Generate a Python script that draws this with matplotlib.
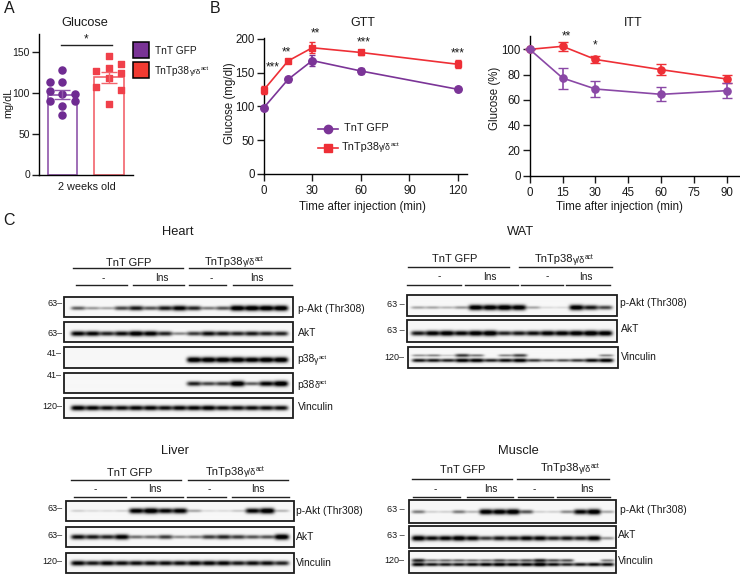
import numpy as np
import matplotlib
matplotlib.use("Agg")
import matplotlib.pyplot as plt
from matplotlib.patches import Rectangle

plt.rcParams['font.family'] = ['Liberation Sans', 'DejaVu Sans']
plt.rcParams['axes.linewidth'] = 1.0
plt.rcParams['xtick.major.width'] = 1.0
plt.rcParams['ytick.major.width'] = 1.0
plt.rcParams['xtick.major.size'] = 5
plt.rcParams['ytick.major.size'] = 5
plt.rcParams['xtick.major.pad'] = 3
plt.rcParams['ytick.major.pad'] = 1.5
plt.rcParams['xtick.labelsize'] = 8.3
plt.rcParams['ytick.labelsize'] = 8.3

W, H = 740, 574
PURPLE = '#7b3497'
RED = '#ee2f36'
TXT = '#1a1a1a'

# panel A
glucose_gfp = [127.4, 112.4, 112.4, 102.2, 98.9, 98.9, 89.2, 89.6, 83.5, 72.5]
glucose_gfp_col = [0, -1, 0, -1, 0, 1, -1, 1, 0, 0]
glucose_p38 = [145, 126.2, 134.4, 129.5, 123.4, 118, 106.3, 103.4, 86.3]
glucose_p38_col = [0, -1, 1, 0, 1, 0, -1, 1, 0]
bar_means = [97.7, 118.5]
bar_err = [5.5, 6.3]

# panel B, GTT
gtt_time = [0, 15, 30, 60, 120]
gtt_gfp = [98, 140, 168, 152.6, 125.4]
gtt_gfp_err = [2, 3, 8, 5, 3]
gtt_p38 = [124.4, 167.4, 187, 180, 162.5]
gtt_p38_err = [6, 3, 8, 4, 6]
gtt_stars = [(5.5, 158, '***'), (14, 180, '**'), (32, 208, '**'), (62, 195, '***'), (120, 179, '***')]

# panel B, ITT
itt_time = [0, 15, 30, 60, 90]
itt_gfp = [100, 77.3, 68.6, 64.4, 67.3]
itt_gfp_err = [0, 8.3, 6.7, 5.5, 6]
itt_p38 = [100, 102.4, 92, 83.9, 76.5]
itt_p38_err = [0, 3.7, 2.8, 4.2, 3]

# panel C, band strength per lane
heart_pakt = [.45, .25, .2, .55, .75, .5, .75, .9, .7, .35, .5, 1, 1, 1, 1]
heart_akt = [.85, .85, .7, .8, .95, .9, .7, .3, .6, .8, .75, .7, .75, .7, .7]
heart_p38g = [0, 0, 0, 0, 0, 0, 0, 0, 1, 1, 1, 1, .95, 1, 1]
heart_p38d = [0, 0, 0, 0, 0, 0, 0, 0, .7, .55, .6, 1, .45, .85, 1]
heart_vinc = [.9, .85, .8, .8, .85, .85, .8, .85, .85, .9, .8, .8, .8, .8, .8]

wat_pakt = [.2, .2, .15, .25, .95, .95, 1, .95, .2, .05, .05, .95, .75, .55]
wat_akt = [.75, .9, .95, .85, .95, 1, .7, .75, .8, .9, .9, .95, 1, .95]
wat_vinc = [.75, .75, .7, .9, .9, .7, .8, .9, .6, .45, .5, .6, .8, .9]
wat_vinc_up = [.25, .3, .1, .6, .35, 0, .3, .55, 0, 0, 0, 0, 0, .3]

liver_pakt = [.08, .05, .05, .07, .9, 1, .85, .9, .2, .05, .05, .1, .85, 1, .15]
liver_akt = [.8, .75, .7, .9, .4, .4, .6, .3, .35, .6, .7, .6, .5, .5, 1]
liver_vinc = [.85, .75, .85, .8, .8, .8, .8, .8, .85, .85, .85, .75, .8, .8, .7]

muscle_pakt = [.35, .08, .08, .35, .15, .95, .95, 1, .5, .08, .08, .3, .85, 1, .2]
muscle_akt = [.95, .8, .85, .95, .85, .6, .75, .75, .85, .85, .7, .75, .7, .9, .25]
muscle_vinc = [.85, .75, .75, .75, .8, .85, .9, .85, .85, .95, .8, .7, .75, .8, .8]
muscle_vinc_up = [.7, .35, .4, .4, .35, .35, .5, .4, .5, .7, .5, .5, 0, 0, .35]

fig = plt.figure(figsize=(W / 100, H / 100), dpi=100)

# overlay in pixel coordinates for the blots and free text
ov = fig.add_axes([0, 0, 1, 1], zorder=5)
ov.patch.set_alpha(0)
ov.axis('off')
ov.set_xlim(0, W)
ov.set_ylim(H, 0)


def px_axes(left, right, top, bottom):
  a = fig.add_axes([left / W, 1 - bottom / H, (right - left) / W, (bottom - top) / H])
  a.spines['top'].set_visible(False)
  a.spines['right'].set_visible(False)
  a.tick_params(colors=TXT)
  return a


def label_axes(a, xlabel, xpos, ylabel, ypos, size=8.3):
  a.set_xlabel(xlabel, fontsize=size, color=TXT, va='center', ha='center')
  a.xaxis.set_label_coords(xpos[0], xpos[1], transform=ov.transData)
  a.set_ylabel(ylabel, fontsize=size, color=TXT, va='center', ha='center')
  a.yaxis.set_label_coords(ypos[0], ypos[1], transform=ov.transData)


def t(x, y, s, size=7.4, ha='left', **kw):
  return ov.text(x, y, s, fontsize=size, ha=ha, va='center', color=TXT, **kw)


def p38_label(x, y, size=8):
  # TnTp38 + small gamma/delta + raised act
  r = fig.canvas.get_renderer()
  a = t(x, y, 'TnTp38', size)
  x += a.get_window_extent(r).width - 0.5
  b = t(x, y + 1, 'γ/δ', size * .82)
  x += b.get_window_extent(r).width - 0.5
  t(x, y - 2, 'act', size * .6)


def p38_protein(x, y, letter, size=7.4):
  r = fig.canvas.get_renderer()
  a = t(x, y, 'p38', size)
  x += a.get_window_extent(r).width - 0.5
  b = t(x, y + 1, letter, size * .85)
  x += b.get_window_extent(r).width - 0.5
  t(x, y - 2, 'act', size * .6)


def blot(x0, x1, y0, y1, rows, ml, mr):
  xs = np.arange(x0, x1, 0.5)
  ys = np.arange(y0, y1, 0.5)
  gx, gy = np.meshgrid(xs, ys)
  dark = np.zeros_like(gx)
  for vals, frac in rows:
    n = len(vals)
    centres = np.linspace(x0 + ml, x1 - mr, n)
    half = (centres[1] - centres[0]) * 0.5
    yc = y0 + frac * (y1 - y0)
    for c, v in zip(centres, vals):
      sy = (1.1 + 1.7 * v) * (0.75 if len(rows) > 1 else 1)
      dark += v ** 0.8 * np.exp(-((gx - c) / half) ** 4) * np.exp(-((gy - yc) / sy) ** 2)
  img = 0.97 - 1.15 * np.clip(dark, 0, 1)
  ov.imshow(img, cmap='gray', vmin=0, vmax=1, extent=(x0, x1, y1, y0), aspect='auto', interpolation='bilinear')
  ov.add_patch(Rectangle((x0, y0), x1 - x0, y1 - y0, fill=False, ec='#1c1c1c', lw=1.3))


def header(title, title_xy, gfp_xy, gfp_line, p38_xy, p38_line, line_y, subs, sub_y):
  t(title_xy[0], title_xy[1], title, 9.3, ha='center')
  t(gfp_xy[0], gfp_xy[1], 'TnT GFP', 8, ha='center')
  p38_label(p38_xy[0], p38_xy[1])
  ov.plot(gfp_line, [line_y, line_y], color='#222222', lw=1)
  ov.plot(p38_line, [line_y, line_y], color='#222222', lw=1)
  for lab, xc, xa, xb in subs:
    t(xc, sub_y[0], lab, 7.2, ha='center')
    ov.plot([xa, xb], [sub_y[1], sub_y[1]], color='#222222', lw=1)


# A
ax = px_axes(39, 133, 34, 174.5)
ax.set_xlim(-0.506, 1.519)
ax.set_ylim(0, 171.6)
ax.bar([0], bar_means[0], width=0.64, fc='white', ec='#8f55aa', lw=1.2)
ax.bar([1], bar_means[1], width=0.64, fc='white', ec='#f2646c', lw=1.2)
ax.errorbar([0], bar_means[0], yerr=bar_err[0], color='#8f55aa', capsize=5.5, lw=1, zorder=4)
ax.errorbar([1], bar_means[1], yerr=bar_err[1], color='#f2646c', capsize=5.5, lw=1, zorder=4)
ax.scatter(0 + 0.27 * np.array(glucose_gfp_col), glucose_gfp, s=26, color='#6f2b92', zorder=3)
ax.scatter(1 + 0.27 * np.array(glucose_p38_col), glucose_p38, s=20, marker='s', color='#f0404a', zorder=3)
ax.set_xticks([])
ax.set_yticks([0, 50, 100, 150])
ax.tick_params(axis='y', labelsize=7.5)
label_axes(ax, '2 weeks old', (87, 186.7), 'mg/dL', (8, 103), size=7.8)
t(84.5, 22.5, 'Glucose', 9.2, ha='center')
ov.plot([60.6, 111.6], [45, 45], color='#222222', lw=1)
t(86.5, 39, '*', 8.5, ha='center')
ov.add_patch(Rectangle((133, 42), 16, 16, fc='#7a3396', ec='black', lw=1.1))
ov.add_patch(Rectangle((133, 62), 16, 16, fc='#f23b32', ec='black', lw=1.1))
t(155, 50.5, 'TnT GFP', 7.3)
p38_label(155, 71, 7.3)

# GTT
ax = px_axes(263.7, 467.3, 38.3, 174)
ax.set_xlim(0, 125.7)
ax.set_ylim(0, 201)
ax.errorbar(gtt_time, gtt_gfp, yerr=gtt_gfp_err, color=PURPLE, marker='o', ms=5.4, lw=1.2, capsize=2.5, clip_on=False, zorder=3)
ax.errorbar(gtt_time, gtt_p38, yerr=gtt_p38_err, color=RED, marker='s', ms=4.8, lw=1.2, capsize=2.5, clip_on=False, zorder=4)
ax.set_xticks([0, 30, 60, 90, 120])
ax.set_yticks([0, 50, 100, 150, 200])
label_axes(ax, 'Time after injection (min)', (362.7, 206.7), 'Glucose (mg/dl)', (229.5, 103))
for sx, sy, s in gtt_stars:
  ax.text(sx, sy, s, fontsize=8.5, ha='center', va='center', color=TXT, clip_on=False)
t(363, 22.7, 'GTT', 9, ha='center')
ov.plot([318, 338], [129.3, 129.3], color=PURPLE, lw=1.2)
ov.plot([328], [129.3], color=PURPLE, marker='o', ms=6)
ov.plot([318, 338], [148.3, 148.3], color=RED, lw=1.2)
ov.plot([328], [148.3], color=RED, marker='s', ms=5.8)
t(344, 128, 'TnT GFP', 7.8)
p38_label(341.7, 147, 7.8)

# ITT
ax = px_axes(529.7, 739.3, 35.7, 175.7)
ax.set_xlim(0, 95.6)
ax.set_ylim(0, 110.8)
ax.errorbar(itt_time, itt_p38, yerr=itt_p38_err, color=RED, marker='o', ms=5.2, lw=1.2, capsize=3.4, clip_on=False, zorder=3)
ax.errorbar(itt_time, itt_gfp, yerr=itt_gfp_err, color='#8a48a6', marker='o', ms=5.2, lw=1.2, capsize=3.4, clip_on=False, zorder=4)
ax.set_xticks([0, 15, 30, 45, 60, 75, 90])
ax.set_yticks([0, 20, 40, 60, 80, 100])
label_axes(ax, 'Time after injection (min)', (619, 206.7), 'Glucose (%)', (495, 98))
ax.text(16.5, 110.5, '**', fontsize=8.5, ha='center', va='center', color=TXT, clip_on=False)
ax.text(30, 103, '*', fontsize=8.5, ha='center', va='center', color=TXT, clip_on=False)
t(633, 22.7, 'ITT', 9, ha='center')

t(9, 8.5, 'A', 11.5, ha='center')
t(215.5, 8.5, 'B', 11.5, ha='center')
t(9, 220.5, 'C', 11.5, ha='center')

# Heart
header('Heart', (177.3, 231.7), (128.3, 262.7), [72.7, 182.7], (205, 261.7), [189.3, 290], 268.3,
       [('-', 103.3, 75.7, 127.3), ('Ins', 162.3, 133.3, 184.3), ('-', 211.7, 188.7, 226), ('Ins', 257.3, 233.3, 291.7)],
       (277.7, 285.3))
blot(64, 292.7, 296.7, 317.3, [(heart_pakt, .58)], 14, 12)
blot(64, 292.7, 321.7, 342.3, [(heart_akt, .6)], 14, 12)
blot(64, 292.7, 346.7, 367.7, [(heart_p38g, .6)], 14, 12)
blot(64, 292.7, 372.7, 393, [(heart_p38d, .55)], 14, 12)
blot(64, 292.7, 397.7, 418.3, [(heart_vinc, .52)], 14, 12)
for lab, yy in [('63–', 304), ('63–', 334), ('41–', 354), ('41–', 375.7), ('120–', 406.7)]:
  t(62.3, yy, lab, 6.5, ha='right')
t(297.7, 309.3, 'p-Akt (Thr308)')
t(297.7, 332.7, 'AkT')
p38_protein(297.7, 359.3, 'γ')
p38_protein(297.7, 385, 'δ')
t(297.7, 407.3, 'Vinculin')

# WAT
header('WAT', (520.7, 231.7), (454.7, 259.3), [408.3, 509.3], (535, 259.3), [519.3, 612], 267,
       [('-', 439, 407.3, 460.7), ('Ins', 490.3, 464.7, 518.3), ('-', 547.7, 521.3, 562.7), ('Ins', 586, 566, 610.3)],
       (276.5, 284.7))
blot(407.3, 617.3, 294.7, 316, [(wat_pakt, .61)], 11, 12)
blot(407.3, 617.3, 320.3, 342, [(wat_akt, .6)], 11, 12)
blot(408.3, 618.3, 346.7, 368, [(wat_vinc, .65), (wat_vinc_up, .42)], 11, 12)
for lab, yy in [('63 –', 304.3), ('63 –', 330.3), ('120–', 357.7)]:
  t(404.3, yy, lab, 6.5, ha='right')
t(620, 303.3, 'p-Akt (Thr308)')
t(620.7, 329.3, 'AkT')
t(620.7, 356.7, 'Vinculin')

# Liver
header('Liver', (175.3, 450.7), (130, 472.7), [71, 181], (206, 471.7), [187.7, 287.7], 480,
       [('-', 95, 74, 125.7), ('Ins', 155, 131, 183), ('-', 209.3, 187.3, 226), ('Ins', 257.7, 231.7, 289.3)],
       (489.5, 497))
blot(65.7, 294.3, 500.7, 521, [(liver_pakt, .51)], 12, 13)
blot(65.7, 294.3, 526.7, 547.3, [(liver_akt, .52)], 12, 13)
blot(65.7, 294.3, 552.7, 573.3, [(liver_vinc, .53)], 12, 13)
for lab, yy in [('63–', 508.3), ('63–', 535), ('120–', 561.7)]:
  t(62.3, yy, lab, 6.5, ha='right')
t(296, 511.3, 'p-Akt (Thr308)')
t(296, 537.3, 'AkT')
t(296, 563.3, 'Vinculin')

# Muscle
header('Muscle', (518.3, 450.7), (462.7, 470), [411.7, 511.7], (541, 468.3), [517.3, 609], 478.7,
       [('-', 435.7, 413.3, 460), ('Ins', 491, 466.7, 513.3), ('-', 534, 517.7, 553), ('Ins', 587.3, 557.3, 610)],
       (489.5, 496.7))
blot(409, 616, 500, 522.7, [(muscle_pakt, .51)], 9.3, 8.7)
blot(409, 616, 525.7, 548, [(muscle_akt, .57)], 9.3, 8.7)
blot(409, 616, 550.7, 573.3, [(muscle_vinc, .63), (muscle_vinc_up, .45)], 9.3, 8.7)
for lab, yy in [('63 –', 510), ('63 –', 535.3), ('120–', 560.7)]:
  t(404.3, yy, lab, 6.5, ha='right')
t(620, 510, 'p-Akt (Thr308)')
t(618.3, 535.3, 'AkT')
t(618.3, 560.7, 'Vinculin')

ov.set_xlim(0, W)
ov.set_ylim(H, 0)

fig.savefig('out.png', dpi=100)
